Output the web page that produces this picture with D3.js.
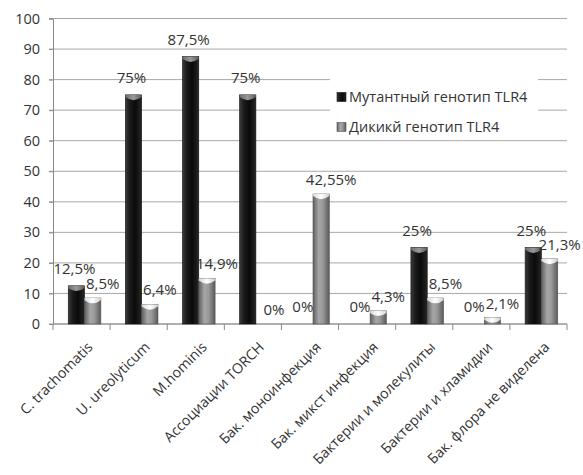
<!DOCTYPE html>
<html>
<head>
<meta charset="utf-8">
<script src="https://cdn.jsdelivr.net/npm/d3@7"></script>
<style>
  html, body { margin: 0; padding: 0; background: #fff; }
  svg { display: block; }
  text { font-family: "Open Sans", "DejaVu Sans", sans-serif; fill: #333; }
</style>
</head>
<body>
<svg id="chart" width="583" height="475"></svg>
<script>
// Categories of infection found, and share (%) of each genotype group
const categories = [
  "C. trachomatis",
  "U. ureolyticum",
  "M.hominis",
  "Ассоциации TORCH",
  "Бак. моноинфекция",
  "Бак. микст инфекция",
  "Бактерии и молекулиты",
  "Бактерии и хламидии",
  "Бак. флора не виделена"
];
const mutantValues = [12.5, 75, 87.5, 75, 0, 0, 25, 0, 25];
const wildValues = [8.5, 6.4, 14.9, 0, 42.55, 4.3, 8.5, 2.1, 21.3];
const seriesNames = ["Мутантный генотип TLR4", "Дикикй генотип TLR4"];
const yTicks = [0, 10, 20, 30, 40, 50, 60, 70, 80, 90, 100];

const plot = { left: 53, right: 567, top: 18.5, bottom: 324 };

const svg = d3.select("#chart");
const defs = svg.append("defs");

// Cylinder-like shading for both series
function hGrad(id, stops) {
  const g = defs.append("linearGradient").attr("id", id)
    .attr("x1", "0").attr("x2", "1").attr("y1", "0").attr("y2", "0");
  stops.forEach(s => g.append("stop").attr("offset", s[0]).attr("stop-color", s[1]));
}
hGrad("gMut", [[0, "#3c3c3c"], [0.25, "#1c1c1c"], [0.6, "#0a0a0a"], [1, "#262626"]]);
hGrad("gWild", [[0, "#5e5e5e"], [0.35, "#a6a6a6"], [0.6, "#9a9a9a"], [1, "#5a5a5a"]]);
hGrad("gMutCap", [[0, "#6a6a6a"], [0.5, "#9a9a9a"], [1, "#5a5a5a"]]);
hGrad("gWildCap", [[0, "#d8d8d8"], [0.5, "#ffffff"], [1, "#cfcfcf"]]);

const x = d3.scaleBand().domain(categories).range([plot.left, plot.right]).padding(0);
const y = d3.scaleLinear().domain([0, 100]).range([plot.bottom, plot.top]);
// the pair of bars sits a little right of the category centre
const inner = d3.scaleBand().domain([0, 1]).range([3, x.bandwidth() + 3]).paddingInner(0).paddingOuter(0.75);

// Gridlines
svg.append("g")
  .selectAll("line").data(yTicks).join("line")
  .attr("x1", plot.left - 4).attr("x2", plot.right)
  .attr("y1", d => y(d)).attr("y2", d => y(d))
  .attr("stroke", "#a8a8a8").attr("stroke-width", 1);

// Y axis
const yAxis = svg.append("g")
  .attr("transform", `translate(${plot.left},0)`)
  .call(d3.axisLeft(y).tickValues(yTicks).tickSize(4).tickPadding(9));
yAxis.select(".domain").attr("stroke", "#8a8a8a");
yAxis.selectAll(".tick line").attr("stroke", "#8a8a8a");
yAxis.selectAll(".tick text").attr("font-size", 14.5).attr("fill", "#333")
  .style("font-family", "'Open Sans', sans-serif");

// X axis with ticks between categories
const xAxisG = svg.append("g").attr("transform", `translate(0,${plot.bottom})`);
xAxisG.append("line").attr("x1", plot.left).attr("x2", plot.right)
  .attr("stroke", "#8a8a8a");
const boundaries = categories.map(c => x(c)).concat([plot.right]);
xAxisG.selectAll("line.tk").data(boundaries).join("line").attr("class", "tk")
  .attr("x1", d => d).attr("x2", d => d).attr("y1", 0).attr("y2", 6)
  .attr("stroke", "#8a8a8a");
xAxisG.selectAll("text").data(categories).join("text")
  .attr("transform", d => `translate(${x(d) + x.bandwidth() / 2 + 12},${24}) rotate(-45)`)
  .attr("text-anchor", "end")
  .attr("font-size", 14.2)
  .text(d => d);

// Bars
const rows = categories.map((c, i) => ({ c, vals: [mutantValues[i], wildValues[i]] }));
const bars = [];
rows.forEach(r => r.vals.forEach((v, s) => bars.push({ c: r.c, s, v })));

const barG = svg.append("g");
bars.forEach(b => {
  if (b.v <= 0) return;
  const bx = x(b.c) + inner(b.s);
  const bw = inner.bandwidth();
  const top = y(b.v);
  const h = plot.bottom - top;
  barG.append("rect")
    .attr("x", bx).attr("y", top).attr("width", bw).attr("height", h)
    .attr("fill", b.s === 0 ? "url(#gMut)" : "url(#gWild)")
    .attr("stroke", b.s === 0 ? "#111" : "#555").attr("stroke-width", 0.6);
  const capH = Math.min(6, h);
  barG.append("path")
    .attr("d", `M${bx},${top} L${bx + bw},${top} L${bx + bw},${top + capH * 0.35} Q${bx + bw / 2},${top + capH * 1.4} ${bx},${top + capH * 0.35} Z`)
    .attr("fill", b.s === 0 ? "url(#gMutCap)" : "url(#gWildCap)");
});

// Value labels: first series centred above its bar, second nudged right
const fmt = v => String(v).replace(".", ",") + "%";
svg.append("g").selectAll("text").data(bars).join("text")
  .attr("x", b => x(b.c) + inner(b.s) + inner.bandwidth() / 2 + (b.s === 1 ? 10 : -2))
  .attr("y", b => y(b.v) - (b.s === 0 ? 12 : 9))
  .attr("text-anchor", "middle")
  .attr("font-size", 15)
  .text(b => fmt(b.v));

// Legend
const lg = svg.append("g");
lg.append("rect").attr("x", 330).attr("y", 73).attr("width", 208).attr("height", 65).attr("fill", "#fff");
seriesNames.forEach((name, i) => {
  const ly = 97 + i * 30;
  lg.append("rect").attr("x", 337).attr("y", ly - 4.5).attr("width", 9).attr("height", 9)
    .attr("fill", i === 0 ? "url(#gMut)" : "url(#gWild)")
    .attr("stroke", i === 0 ? "#111" : "#555").attr("stroke-width", 0.6);
  lg.append("text").attr("x", 349).attr("y", ly + 5).attr("font-size", 14.5).text(name);
});
</script>
</body>
</html>
